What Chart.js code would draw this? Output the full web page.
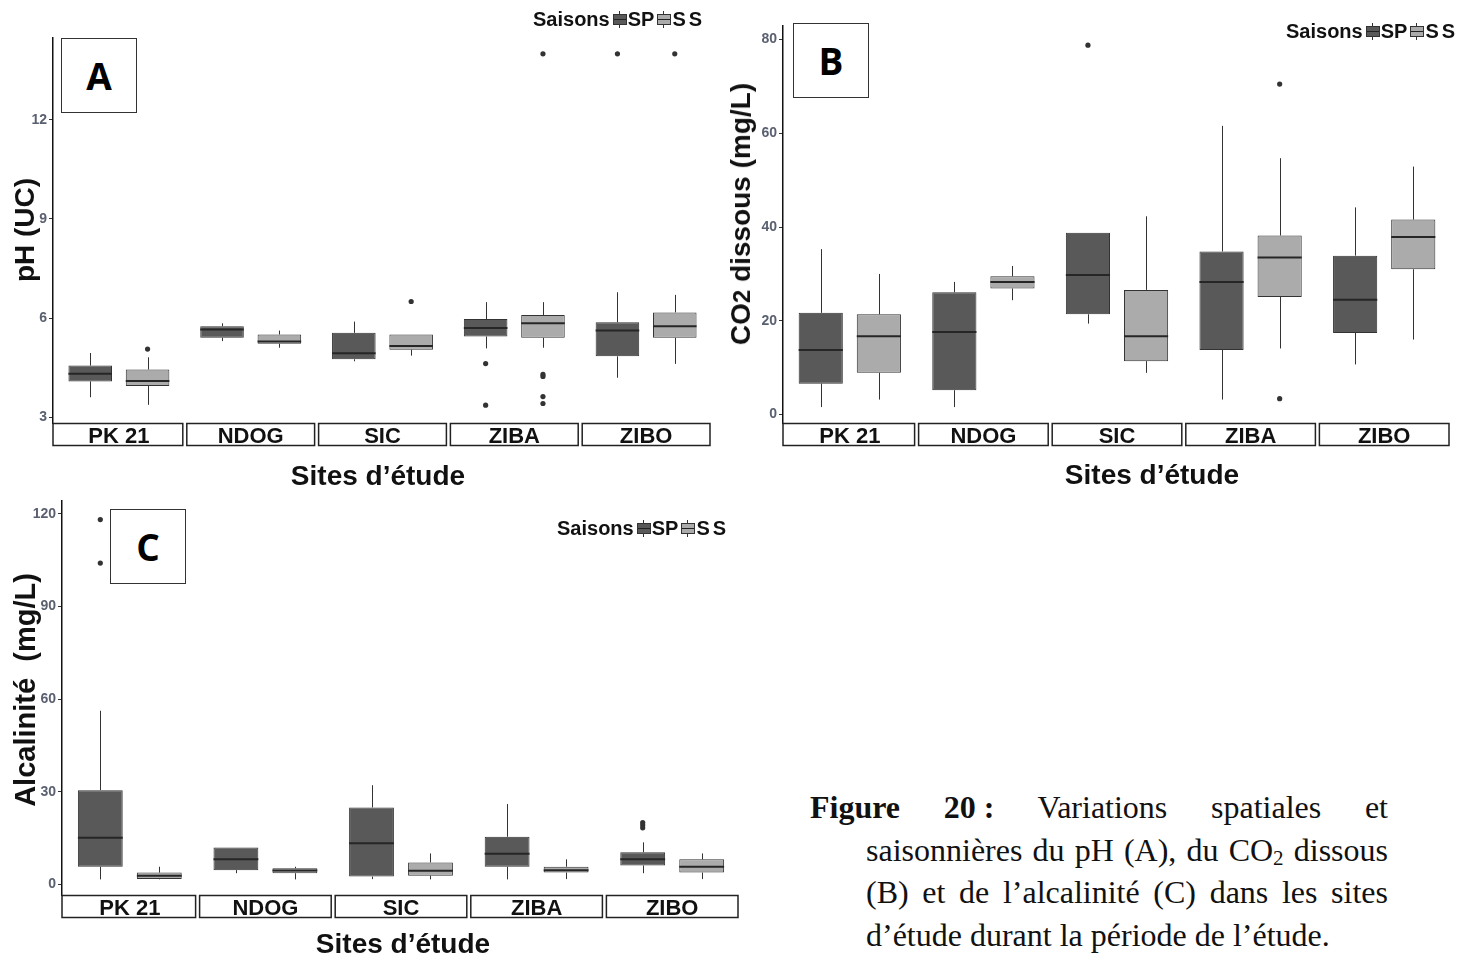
<!DOCTYPE html>
<html>
<head>
<meta charset="utf-8">
<script src="https://cdn.jsdelivr.net/npm/chart.js@4.4.1/dist/chart.umd.min.js"></script>
<style>
  body { margin: 0; background: #fff; width: 1474px; height: 957px; position: relative; overflow: hidden; }
  canvas { position: absolute; }
  .txt { position: absolute; font-family: 'Liberation Sans', Arial, sans-serif; font-weight: bold; color: #111; white-space: nowrap; }
  .ytitle { font-size: 28px; transform: translate(-50%, -50%) rotate(-90deg); }
  .xtitle { font-size: 28px; transform: translate(-50%, -50%); }
  .tag { position: absolute; width: 74px; height: 73px; border: 1px solid #333; background: #fff;
         font-family: 'Open Sans', sans-serif; font-weight: bold; font-size: 37px;
         display: flex; align-items: center; justify-content: center; }
  .leg { position: absolute; display: flex; align-items: center; font-family: 'Liberation Sans', Arial, sans-serif;
         font-weight: bold; font-size: 20px; line-height: 24px; color: #111; }
  .g { display: inline-block; position: relative; width: 12px; height: 9px; border: 1px solid #333; margin: 0 1px 0 3px; }
  .g::before { content: ''; position: absolute; left: 5px; top: -4px; width: 1px; height: 17px; background: #333; z-index: -1; }
  .g::after { content: ''; position: absolute; left: 0; top: 4px; width: 12px; height: 1px; background: #222; }
  .g.sp { background: #595959; }
  .g.ss { background: #ababab; }
  .cap { position: absolute; font-family: 'Liberation Serif', 'Times New Roman', serif; font-size: 32px; line-height: 42.5px; color: #111; }
  .cap div { height: 42.5px; text-align: justify; text-align-last: justify; }
  .cap div.last { text-align-last: left; }
  .cap sub { font-size: 21px; line-height: 0; vertical-align: -4px; }
</style>
</head>
<body>
<canvas id="chA" width="720" height="460" style="left:0;top:0"></canvas>
<canvas id="chB" width="754" height="460" style="left:720px;top:0"></canvas>
<canvas id="chC" width="760" height="460" style="left:0;top:490px"></canvas>

<div class="tag" style="left:61px;top:38px">A</div>
<div class="tag" style="left:793px;top:23px">B</div>
<div class="tag" style="left:110px;top:509px">C</div>

<div class="leg" style="left:533px;top:7px">Saisons<i class="g sp"></i>SP<i class="g ss"></i><span style="letter-spacing:3px">SS</span></div>
<div class="leg" style="left:1286px;top:19px">Saisons<i class="g sp"></i>SP<i class="g ss"></i><span style="letter-spacing:3px">SS</span></div>
<div class="leg" style="left:557px;top:516px">Saisons<i class="g sp"></i>SP<i class="g ss"></i><span style="letter-spacing:3px">SS</span></div>

<div class="txt ytitle" style="left:25px;top:230px">pH (UC)</div>
<div class="txt ytitle" style="left:741px;top:214px">CO<span style="font-size:24px">2</span> dissous (mg/L)</div>
<div class="txt ytitle" style="left:25px;top:690px;font-size:29px">Alcalinité &nbsp;(mg/L)</div>

<div class="txt xtitle" style="left:378px;top:476px">Sites d’étude</div>
<div class="txt xtitle" style="left:1152px;top:475px">Sites d’étude</div>
<div class="txt xtitle" style="left:403px;top:944px">Sites d’étude</div>

<div class="cap" style="left:810px;top:786px;width:578px">
  <div><b>Figure</b> <b style="display:inline-block">20 :</b> Variations spatiales et</div>
</div>
<div class="cap" style="left:866px;top:828.5px;width:522px">
  <div>saisonnières du pH (A), du CO<sub>2</sub> dissous</div>
  <div>(B) et de l’alcalinité (C) dans les sites</div>
  <div class="last">d’étude durant la période de l’étude.</div>
</div>

<script>
const sites = ['PK 21', 'NDOG', 'SIC', 'ZIBA', 'ZIBO'];

// pH (A)
const phTicks = [3, 6, 9, 12];
const phSP_min = [3.60, 5.30, 4.69, 5.08, 4.19];
const phSP_q1  = [4.08, 5.40, 4.75, 5.44, 4.84];
const phSP_med = [4.31, 5.65, 4.93, 5.70, 5.62];
const phSP_q3  = [4.56, 5.75, 5.55, 5.97, 5.87];
const phSP_max = [4.94, 5.84, 5.89, 6.48, 6.78];
const phSP_out = [[], [], [], [4.62, 3.36], [14.0]];
const phSS_min = [3.37, 5.10, 4.86, 5.10, 4.61];
const phSS_q1  = [3.94, 5.22, 5.04, 5.40, 5.40];
const phSS_med = [4.09, 5.29, 5.15, 5.84, 5.75];
const phSS_q3  = [4.44, 5.50, 5.50, 6.09, 6.17];
const phSS_max = [4.81, 5.62, 5.50, 6.48, 6.70];
const phSS_out = [[5.06], [], [6.50], [14.0, 4.29, 4.23, 3.62, 3.41], [14.0]];

// CO2 dissous (B)
const co2Ticks = [0, 20, 40, 60, 80];
const co2SP_min = [1.6, 1.6, 19.4, 3.2, 10.7];
const co2SP_q1  = [6.6, 5.2, 21.4, 13.8, 17.4];
const co2SP_med = [13.8, 17.6, 29.8, 28.3, 24.5];
const co2SP_q3  = [21.7, 26.1, 38.8, 34.8, 33.9];
const co2SP_max = [35.3, 28.3, 38.8, 61.6, 44.2];
const co2SP_out = [[], [], [78.8], [], []];
const co2SS_min = [3.2, 24.4, 8.9, 14.1, 16.0];
const co2SS_q1  = [8.9, 26.9, 11.4, 25.1, 31.0];
const co2SS_med = [16.7, 28.3, 16.7, 33.5, 37.9];
const co2SS_q3  = [21.4, 29.5, 26.6, 38.2, 41.6];
const co2SS_max = [30.0, 31.7, 42.3, 54.7, 52.9];
const co2SS_out = [[], [], [], [70.5, 3.4], []];

// Alcalinité (C)
const alkTicks = [0, 30, 60, 90, 120];
const alkSP_min = [1.6, 3.6, 1.7, 1.6, 3.6];
const alkSP_q1  = [5.7, 4.6, 2.5, 5.7, 6.1];
const alkSP_med = [15.1, 8.1, 13.3, 9.9, 8.1];
const alkSP_q3  = [30.5, 11.9, 24.9, 15.4, 10.4];
const alkSP_max = [56.2, 11.9, 32.1, 26.0, 13.6];
const alkSP_out = [[118.1, 104.0], [], [], [], [20.0, 19.2, 18.3]];
const alkSS_min = [1.6, 1.6, 1.6, 1.7, 1.7];
const alkSS_q1  = [1.7, 3.6, 2.8, 3.8, 3.8];
const alkSS_med = [2.8, 4.5, 4.4, 4.6, 5.7];
const alkSS_q3  = [3.8, 5.2, 7.1, 5.7, 8.1];
const alkSS_max = [5.7, 5.7, 10.0, 8.1, 10.0];
const alkSS_out = [[], [], [], [], []];

const SP_COLOR = '#595959';
const SS_COLOR = '#ababab';

// whiskers, medians, outliers and the facet strips, all placed through the chart scales
const boxPlugin = {
  id: 'boxExtras',
  beforeDatasetsDraw(chart) {
    const ctx = chart.ctx, y = chart.scales.y;
    ctx.save();
    ctx.strokeStyle = '#333';
    ctx.lineWidth = 1;
    chart.data.datasets.forEach((ds, d) => {
      chart.getDatasetMeta(d).data.forEach((bar, i) => {
        const x = Math.round(bar.x) + 0.5;
        ctx.beginPath();
        ctx.moveTo(x, y.getPixelForValue(ds.stats.max[i]));
        ctx.lineTo(x, y.getPixelForValue(ds.data[i][1]));
        ctx.moveTo(x, y.getPixelForValue(ds.data[i][0]));
        ctx.lineTo(x, y.getPixelForValue(ds.stats.min[i]));
        ctx.stroke();
      });
    });
    ctx.restore();
  },
  afterDatasetsDraw(chart) {
    const ctx = chart.ctx, y = chart.scales.y;
    ctx.save();
    chart.data.datasets.forEach((ds, d) => {
      chart.getDatasetMeta(d).data.forEach((bar, i) => {
        const ym = y.getPixelForValue(ds.stats.med[i]);
        ctx.strokeStyle = '#262626';
        ctx.lineWidth = 2;
        ctx.beginPath();
        ctx.moveTo(bar.x - bar.width / 2, ym);
        ctx.lineTo(bar.x + bar.width / 2, ym);
        ctx.stroke();
        ctx.fillStyle = '#333';
        ds.stats.out[i].forEach(v => {
          ctx.beginPath();
          ctx.arc(bar.x, y.getPixelForValue(v), 2.6, 0, Math.PI * 2);
          ctx.fill();
        });
      });
    });
    ctx.restore();
  },
  afterDraw(chart) {
    const ctx = chart.ctx, area = chart.chartArea;
    const n = chart.data.labels.length;
    const step = (area.right - area.left) / n;
    ctx.save();
    ctx.strokeStyle = '#222';
    ctx.lineWidth = 1.5;
    for (let i = 0; i < n; i++) {
      const l = area.left + i * step + (i ? 2 : 0);
      const r = area.left + (i + 1) * step - 2;
      ctx.strokeRect(l, area.bottom + 0.5, r - l, 22);
    }
    ctx.restore();
  }
};

function boxDataset(label, color, q1, q3, min, med, max, out) {
  return {
    label,
    data: q1.map((v, i) => [v, q3[i]]),
    backgroundColor: color,
    borderColor: '#333',
    borderWidth: 1,
    borderSkipped: false,
    stats: { min, med, max, out }
  };
}

function makePanel(id, o) {
  new Chart(document.getElementById(id), {
    type: 'bar',
    data: {
      labels: sites,
      datasets: [
        boxDataset('SP', SP_COLOR, o.sp[0], o.sp[1], o.sp[2], o.sp[3], o.sp[4], o.sp[5]),
        boxDataset('SS', SS_COLOR, o.ss[0], o.ss[1], o.ss[2], o.ss[3], o.ss[4], o.ss[5])
      ]
    },
    options: {
      responsive: false,
      animation: false,
      categoryPercentage: 0.87,
      barPercentage: 0.76,
      layout: { padding: { left: 0, right: o.padRight, top: o.padTop, bottom: 0 } },
      plugins: { legend: { display: false }, tooltip: { enabled: false } },
      scales: {
        x: {
          grid: { display: false, drawTicks: false },
          border: { display: false },
          ticks: { padding: 1, color: '#111', font: { family: "'Liberation Sans', Arial", weight: 'bold', size: 22 } },
          afterFit: s => { s.height = o.xHeight; }
        },
        y: {
          min: o.min,
          max: o.max,
          border: { display: true, color: '#111', width: 1.5 },
          grid: { drawOnChartArea: false, drawTicks: true, tickLength: 4, color: '#333' },
          ticks: { padding: 2, color: '#5a6070', font: { family: "'Liberation Sans', Arial", weight: 'bold', size: 14 } },
          afterBuildTicks: s => { s.ticks = o.ticks.map(v => ({ value: v })); },
          afterFit: s => { s.width = o.yWidth; }
        }
      }
    },
    plugins: [boxPlugin]
  });
}

makePanel('chA', {
  min: 2.82, max: 14.48, ticks: phTicks,
  padRight: 8, padTop: 38, yWidth: 53, xHeight: 37,
  sp: [phSP_q1, phSP_q3, phSP_min, phSP_med, phSP_max, phSP_out],
  ss: [phSS_q1, phSS_q3, phSS_min, phSS_med, phSS_max, phSS_out]
});
makePanel('chB', {
  min: -1.8, max: 82.9, ticks: co2Ticks,
  padRight: 23, padTop: 26, yWidth: 63, xHeight: 37,
  sp: [co2SP_q1, co2SP_q3, co2SP_min, co2SP_med, co2SP_max, co2SP_out],
  ss: [co2SS_q1, co2SS_q3, co2SS_min, co2SS_med, co2SS_max, co2SS_out]
});
makePanel('chC', {
  min: -3.45, max: 124.3, ticks: alkTicks,
  padRight: 20, padTop: 10, yWidth: 62, xHeight: 55,
  sp: [alkSP_q1, alkSP_q3, alkSP_min, alkSP_med, alkSP_max, alkSP_out],
  ss: [alkSS_q1, alkSS_q3, alkSS_min, alkSS_med, alkSS_max, alkSS_out]
});
</script>
</body>
</html>
